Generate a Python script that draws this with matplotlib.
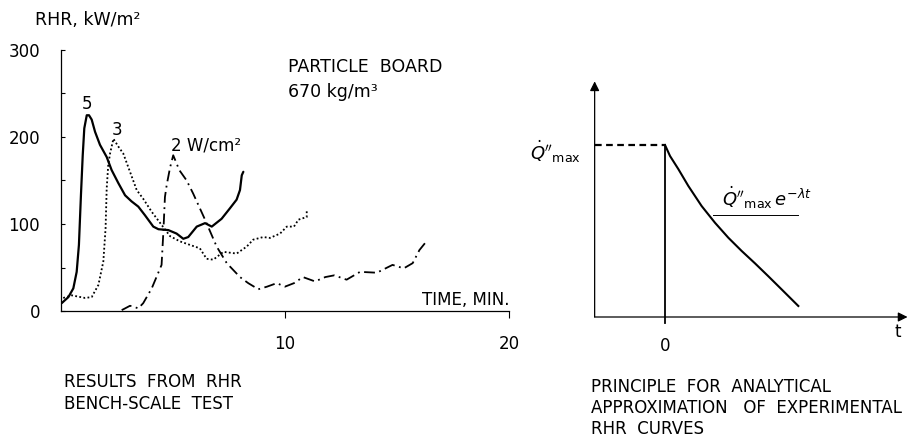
import numpy as np
import matplotlib
matplotlib.use('Agg')
import matplotlib.pyplot as plt

plt.rcParams['font.family'] = ['DejaVu Sans']
plt.rcParams['mathtext.fontset'] = 'dejavusans'

W, H = 910, 438

# left panel: RHR vs time, particle board (min, kW/m2)
t5 = [0.03, 0.33, 0.55, 0.7, 0.8, 0.89, 0.97, 1.04, 1.15, 1.25, 1.37, 1.52,
      1.74, 2.04, 2.26, 2.56, 2.86, 3.15, 3.45, 3.75, 4.12, 4.35, 4.79, 5.16,
      5.46, 5.68, 6.06, 6.43, 6.73, 7.17, 7.54, 7.84, 7.99, 8.07, 8.14]
q5 = [9, 16, 26, 45, 76, 133, 179, 210, 225, 225, 220, 206,
      191, 177, 162, 147, 133, 126, 120, 110, 97, 94, 93, 89,
      83, 85, 97, 101, 97, 106, 118, 128, 139, 156, 160]

t3 = [0.1, 0.48, 1.07, 1.37, 1.67, 1.89, 1.99, 2.04, 2.11, 2.19, 2.34, 2.56,
      2.78, 3.08, 3.38, 3.67, 4.05, 4.49, 4.87, 5.31, 6.2, 6.5, 6.8, 7.25,
      7.84, 8.29, 8.58, 9.03, 9.33, 9.78, 10.08, 10.4, 10.6, 10.97, 10.97]
q3 = [15, 18, 15, 16, 30, 57, 95, 141, 168, 181, 198, 189,
      181, 160, 139, 129, 114, 99, 86, 80, 72, 60, 59, 68,
      66, 74, 82, 85, 84, 89, 97, 97, 105, 108, 116]

t2 = [2.71, 2.86, 3.08, 3.23, 3.45, 3.67, 4.05, 4.49, 4.57, 4.64, 4.72, 4.87,
      5.01, 5.28, 5.61, 5.9, 6.43, 6.95, 7.4, 7.99, 8.36, 8.81, 9.2, 9.63,
      10.0, 10.4, 10.8, 11.34, 11.8, 12.2, 12.75, 13.35, 14.1, 14.8, 15.3,
      15.7, 16.0, 16.25]
q2 = [1, 3, 6, 5, 3, 9, 26, 53, 91, 131, 145, 165,
      179, 162, 150, 135, 105, 74, 55, 39, 32, 25, 28, 32,
      28, 32, 39, 34, 39, 41, 36, 45, 44, 53, 49,
      55, 70, 78]

yticks = [0, 100, 200, 300]
xticks = [10, 20]

# right panel: schematic, t relative to peak, RHR relative to max
t_flat = [-1.05, 0.0]
q_flat = [1.0, 1.0]
t_decay = [0.0, 0.075, 0.199, 0.348, 0.547, 0.746, 0.945, 1.144, 1.343,
           1.542, 1.742, 1.99]
q_decay = [1.0, 0.936, 0.86, 0.762, 0.645, 0.548, 0.461, 0.384, 0.312,
           0.237, 0.16, 0.064]


def fx(px):
    return px / W


def fy(py):
    return 1 - py / H


fig = plt.figure(figsize=(W / 100, H / 100), dpi=100)
fig.patch.set_facecolor('white')

# ---- left panel
ax = fig.add_axes([fx(61), fy(311), 448 / W, 261 / H])
ax.set_xlim(0, 20)
ax.set_ylim(0, 300)
for s in ['top', 'right']:
    ax.spines[s].set_visible(False)
ax.spines['left'].set_linewidth(0.9)
ax.spines['bottom'].set_linewidth(0.9)

ax.plot(t5, q5, color='black', lw=1.6, solid_capstyle='round',
        solid_joinstyle='round')
ax.plot(t3, q3, color='black', lw=1.3, linestyle=(0, (1, 1.3)))
ax.plot(t2, q2, color='black', lw=1.3, linestyle=(0, (6, 2.5, 1, 2.5)))

ax.set_yticks(yticks)
ax.set_yticklabels([str(v) for v in yticks])
ax.set_yticks([50, 150, 250], minor=True)
ax.tick_params(axis='y', which='both', direction='in', length=3, width=0.8,
               pad=15, labelsize=12)
ax.set_xticks(xticks)
ax.set_xticklabels([str(v) for v in xticks])
ax.tick_params(axis='x', direction='out', length=5, width=0.8, pad=12,
               labelsize=12)

ax.text(1.15, 228, '5', fontsize=12, ha='center', va='bottom')
ax.text(2.5, 198, '3', fontsize=12, ha='center', va='bottom')
ax.text(4.9, 180, '2 W/cm²', fontsize=12, ha='left', va='bottom')
ax.text(20, 2, 'TIME, MIN.', fontsize=12, ha='right', va='bottom')

fig.text(fx(288), fy(67), 'PARTICLE  BOARD', fontsize=12.5, va='center')
fig.text(fx(288), fy(92), '670 kg/m³', fontsize=12.5, va='center')
fig.text(fx(35), fy(20), 'RHR, kW/m²', fontsize=12.5, va='center')

fig.text(fx(64), fy(382), 'RESULTS  FROM  RHR', fontsize=12, va='center')
fig.text(fx(64), fy(404), 'BENCH-SCALE  TEST', fontsize=12, va='center')

# ---- right panel
ax2 = fig.add_axes([fx(560), fy(340), 350 / W, 280 / H])
ax2.set_xlim((560 - 665) / 67, (910 - 665) / 67)
ax2.set_ylim((317 - 340) / 172, (317 - 60) / 172)
ax2.axis('off')

ax2.annotate('', xy=(-1.05, 1.37), xytext=(-1.05, 0.0),
             arrowprops=dict(arrowstyle='-|>', color='black', lw=0.9,
                             mutation_scale=14, shrinkA=0, shrinkB=0))
ax2.annotate('', xy=(3.62, 0.0), xytext=(-1.05, 0.0),
             arrowprops=dict(arrowstyle='-|>', color='black', lw=0.9,
                             mutation_scale=14, shrinkA=0, shrinkB=0))
ax2.plot([0, 0], [-0.035, 1.0], color='black', lw=1.3)
ax2.plot(t_flat, q_flat, color='black', lw=1.6, linestyle=(0, (3, 2)))
ax2.plot(t_decay, q_decay, color='black', lw=1.5, solid_joinstyle='round')
ax2.plot([0.72, 1.99], [0.593, 0.593], color='black', lw=0.7)

ax2.text(0, -0.17, '0', fontsize=12, ha='center', va='center')
ax2.text(3.47, -0.09, 't', fontsize=12, ha='center', va='center')
ax2.text(-1.25, 0.96, r"$\dot{Q}''_{\mathrm{max}}$", fontsize=13,
         ha='right', va='center')
ax2.text(0.85, 0.69, r"$\dot{Q}''_{\mathrm{max}}\,e^{-\lambda t}$",
         fontsize=13, ha='left', va='center')

fig.text(fx(591), fy(387), 'PRINCIPLE  FOR  ANALYTICAL', fontsize=12,
         va='center')
fig.text(fx(591), fy(408), 'APPROXIMATION   OF  EXPERIMENTAL', fontsize=12,
         va='center')
fig.text(fx(591), fy(429), 'RHR  CURVES', fontsize=12, va='center')

fig.savefig('out.png', dpi=100, facecolor='white')
